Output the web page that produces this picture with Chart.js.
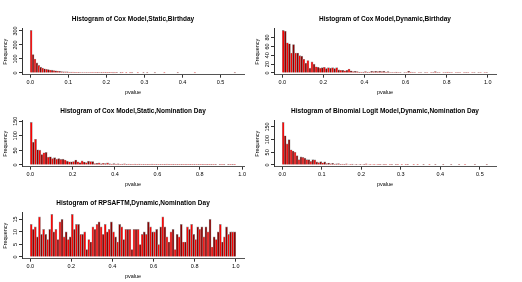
<html>
  <head>
    <script src="https://cdn.jsdelivr.net/npm/chart.js@4.4.1/dist/chart.umd.min.js"></script>
    <style>
      body { margin: 0; background: #fff; }
      canvas { position: absolute; }
    </style>
  </head>
  <body>
    <canvas id="h1" width="261" height="98" style="left:0px;top:0px"></canvas>
    <canvas id="h2" width="261" height="98" style="left:252px;top:0px"></canvas>
    <canvas id="h3" width="261" height="98" style="left:0px;top:92px"></canvas>
    <canvas id="h4" width="261" height="98" style="left:252px;top:92px"></canvas>
    <canvas id="h5" width="261" height="98" style="left:0px;top:184px"></canvas>
  </body>
  <script>
    // bin counts, one value per histogram cell
    const coxStaticBirthWidth = 0.005;
    const coxStaticBirth = [
      304, 132, 100, 72, 54, 42, 35, 30, 27, 25,
      21, 20, 18, 16, 14, 12, 10, 9, 8, 8,
      7, 6, 6, 5, 5, 5, 4, 4, 3, 4,
      3, 3, 2, 3, 2, 2, 3, 1, 2, 2,
      1, 2, 2, 1, 1, 2, 0, 1, 2, 0,
      1, 0, 1, 1, 0, 0, 1, 0, 0, 1,
      0, 1, 0, 0, 0, 1, 0, 0, 0, 0,
      1, 0, 0, 0, 0, 0, 0, 1, 0, 0,
      0, 0, 0, 0, 0, 0, 1, 0, 0, 0,
      0, 0, 0, 0, 0, 0, 0, 0, 0, 0,
      0, 0, 0, 0, 0, 0, 0, 1
    ];

    const coxDynBirthWidth = 0.01;
    const coxDynBirth = [
      96, 94, 68, 66, 45, 64, 45, 45, 39, 38,
      31, 22, 28, 11, 25, 20, 14, 13, 11, 12,
      13, 10, 12, 11, 12, 10, 12, 7, 6, 6,
      5, 6, 9, 5, 3, 4, 3, 2, 2, 2,
      3, 2, 2, 4, 3, 4, 3, 4, 3, 4,
      2, 3, 1, 1, 1, 2, 1, 1, 0, 1,
      1, 4, 2, 1, 1, 0, 1, 1, 0, 1,
      1, 0, 1, 1, 3, 1, 1, 0, 1, 1,
      2, 1, 1, 0, 1, 1, 1, 0, 1, 1,
      1, 0, 1, 1, 0, 1, 1, 0, 1, 1
    ];

    const coxStaticNomWidth = 0.01;
    const coxStaticNom = [
      146, 78, 88, 52, 51, 36, 42, 43, 27, 28,
      22, 25, 20, 22, 19, 20, 17, 13, 11, 11,
      12, 17, 11, 8, 14, 10, 8, 13, 12, 12,
      5, 6, 7, 4, 6, 5, 7, 4, 3, 5,
      3, 4, 2, 3, 4, 2, 3, 2, 2, 3,
      2, 3, 1, 2, 2, 1, 2, 3, 1, 2,
      2, 1, 2, 2, 3, 2, 1, 2, 1, 1,
      1, 2, 1, 1, 2, 1, 1, 2, 1, 1,
      1, 2, 1, 2, 2, 1, 1, 1, 0, 2,
      1, 1, 0, 1, 1, 2, 1
    ];

    const logitDynNomWidth = 0.005;
    const logitDynNom = [
      168, 115, 83, 100, 60, 55, 50, 37, 21, 32,
      30, 27, 21, 21, 14, 21, 20, 12, 10, 13,
      9, 12, 6, 8, 5, 7, 4, 5, 6, 3,
      4, 3, 5, 2, 3, 4, 2, 3, 2, 3,
      2, 3, 5, 2, 1, 2, 1, 2, 1, 1,
      2, 1, 1, 0, 1, 1, 0, 1, 1, 0,
      1, 0, 1, 1, 0, 0, 1, 0, 1, 0,
      0, 1, 0, 0, 1, 0, 0, 1, 0, 0,
      0, 1, 0, 0, 0, 1, 0, 0, 0, 1,
      0, 0, 1, 0, 0, 0, 0, 1, 0, 0,
      0, 0, 0, 1
    ];

    const rpsDynNomWidth = 0.01;
    const rpsDynNom = [
      13, 11, 12, 8, 16, 9, 11, 9, 7, 11,
      17, 10, 11, 7, 14, 15, 8, 10, 7, 8,
      17, 11, 13, 13, 9, 9, 10, 3, 7, 6,
      12, 11, 13, 14, 12, 9, 13, 10, 11, 14,
      10, 8, 6, 13, 12, 7, 11, 11, 11, 3,
      11, 11, 11, 5, 9, 10, 9, 14, 12, 10,
      10, 11, 5, 12, 16, 12, 8, 6, 10, 11,
      3, 9, 8, 13, 6, 6, 12, 11, 13, 9,
      7, 12, 11, 12, 8, 12, 10, 15, 4, 8,
      7, 10, 13, 6, 8, 12, 9, 10, 10, 10
    ];

    // axis ticks
    const xTicksHalf = [0, 0.1, 0.2, 0.3, 0.4, 0.5];
    const xTicksFull = [0, 0.2, 0.4, 0.6, 0.8, 1.0];
    const yTicks1 = [0, 100, 200, 300];
    const yTicks2 = [0, 20, 40, 60, 80];
    const yTicks3 = [0, 50, 100, 150];
    const yTicks4 = [0, 50, 100, 150];
    const yTicks5 = [0, 5, 10, 15];

    const barColors = ['#ff0000', '#8b0000'];

    const FAMILY = '"Liberation Sans", Arial, sans-serif';
    const small = {family: FAMILY, size: 5.5};

    function textWidth(s) {
      const ctx = document.createElement('canvas').getContext('2d');
      ctx.font = '5.5px ' + FAMILY;
      return ctx.measureText(s).width;
    }

    function hist(id, title, counts, binWidth, xTicks, yTicks) {
      const range = counts.length * binWidth;
      const top = Math.max(...counts);
      const widest = Math.max(...yTicks.map(v => textWidth(String(v))));
      new Chart(document.getElementById(id), {
        type: 'bar',
        data: {
          datasets: [{
            data: counts.map((n, i) => ({x: (i + 0.5) * binWidth, y: n})),
            backgroundColor: counts.map((n, i) => barColors[i % 2]),
            borderColor: '#9a9a9a',
            borderWidth: 0.6,
            barPercentage: 1,
            categoryPercentage: 1
          }]
        },
        options: {
          responsive: false,
          animation: false,
          layout: {autoPadding: false, padding: {left: 0, right: 17, top: 0, bottom: 0}},
          plugins: {
            legend: {display: false},
            tooltip: {enabled: false},
            title: {
              display: true, text: title, fullSize: false, color: '#000',
              font: {family: FAMILY, size: 6.5, weight: 'bold'},
              padding: {top: 15.4, bottom: 5.5}
            }
          },
          scales: {
            x: {
              type: 'linear', offset: false,
              min: -0.04 * range, max: 1.04 * range,
              afterFit: s => { s.height = 23.3; },
              afterBuildTicks: s => { s.ticks = xTicks.map(v => ({value: v})); },
              ticks: {callback: v => v.toFixed(1), color: '#000', font: small, padding: 1, maxRotation: 0, autoSkip: false},
              grid: {drawOnChartArea: false, tickLength: 3, color: '#333', offset: false},
              border: {color: '#555'},
              title: {display: true, text: 'pvalue', color: '#000', font: small, padding: {top: 0, bottom: 2.3}}
            },
            y: {
              min: -0.04 * top, max: 1.04 * top,
              afterFit: s => { s.width = 22; },
              afterBuildTicks: s => { s.ticks = yTicks.map(v => ({value: v})); },
              ticks: {minRotation: 90, maxRotation: 90, crossAlign: 'center', padding: 3.5 - widest / 2, color: '#000', font: small, autoSkip: false},
              grid: {drawOnChartArea: false, tickLength: 3, color: '#333'},
              border: {color: '#333'},
              title: {display: true, text: 'Frequency', color: '#000', font: small, padding: {top: 1.7, bottom: 0}}
            }
          }
        }
      });
    }

    hist('h1', 'Histogram of Cox Model,Static,Birthday', coxStaticBirth, coxStaticBirthWidth, xTicksHalf, yTicks1);
    hist('h2', 'Histogram of Cox Model,Dynamic,Birthday', coxDynBirth, coxDynBirthWidth, xTicksFull, yTicks2);
    hist('h3', 'Histogram of Cox Model,Static,Nomination Day', coxStaticNom, coxStaticNomWidth, xTicksFull, yTicks3);
    hist('h4', 'Histogram of Binomial Logit Model,Dynamic,Nomination Day', logitDynNom, logitDynNomWidth, xTicksHalf, yTicks4);
    hist('h5', 'Histogram of RPSAFTM,Dynamic,Nomination Day', rpsDynNom, rpsDynNomWidth, xTicksFull, yTicks5);
  </script>
</html>
